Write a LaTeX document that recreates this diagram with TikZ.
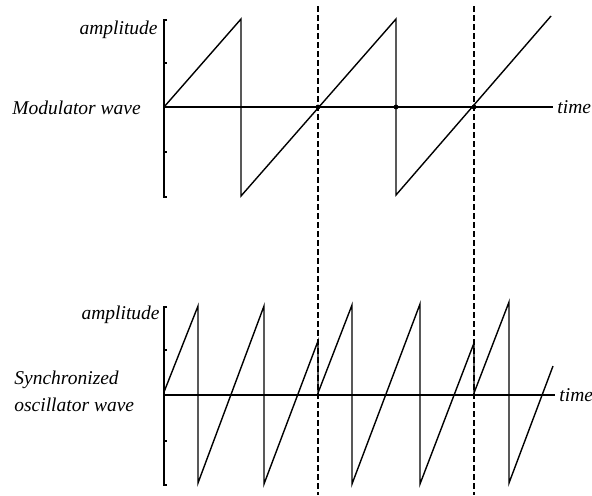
\documentclass[tikz,border=0pt]{standalone}
\usepackage{fontspec}
\setmainfont{Liberation Serif}

\begin{document}
\begin{tikzpicture}[
    x=0.5pt, y=-0.5pt,
    wave/.style={line width=0.7pt, line join=miter},
    axisline/.style={line width=1.1pt},
    bracket/.style={line width=0.8pt},
    syncline/.style={line width=0.9pt, dash pattern=on 3pt off 1.5pt},
    lbl/.style={font=\fontsize{9.75}{13.5}\selectfont\itshape, inner sep=0pt},
    dot/.style={circle, fill=black, inner sep=0pt, minimum size=2.4pt},
]
\useasboundingbox (0,0) rectangle (592,495);

\draw[syncline] (318,6) -- (318,495);
\draw[syncline] (474,6) -- (474,495);

\draw[bracket] (167,20) -- (164,20) -- (164,197) -- (167,197);
\foreach \t in {63,152} \draw[bracket] (164,\t) -- (167,\t);
\draw[axisline] (164,107) -- (553,107);
\node[lbl, anchor=east] (amp1) at (158,30) {amplitude};
\node[lbl, anchor=west] (modlabel) at (12,108) {Modulator wave};
\node[lbl, anchor=west] (time1) at (557,107) {time};
\draw[wave] (164,107) -- (241,19) -- (241,196) -- (396,19) -- (396,195) -- (551,16);
\node[dot] (z1) at (318,107) {};
\node[dot] (z2) at (396,107) {};
\node[dot] (z3) at (474,107) {};

\draw[bracket] (167,307) -- (164,307) -- (164,485) -- (167,485);
\foreach \t in {350,441} \draw[bracket] (164,\t) -- (167,\t);
\draw[axisline] (164,395) -- (555,395);
\node[lbl, anchor=east] (amp2) at (160,315) {amplitude};
\node[lbl, anchor=west, align=left] (synclabel) at (14,391) {Synchronized\\oscillator wave};
\node[lbl, anchor=west] (time2) at (559,395) {time};
\draw[wave] (164,392) -- (198,306) -- (198,483) -- (264,306) -- (264,484)
    -- (318,341) -- (318,393) -- (352,305) -- (352,484) -- (420,304)
    -- (420,484) -- (474,343) -- (474,393) -- (509,302) -- (509,483) -- (553,366);
\end{tikzpicture}
\end{document}
